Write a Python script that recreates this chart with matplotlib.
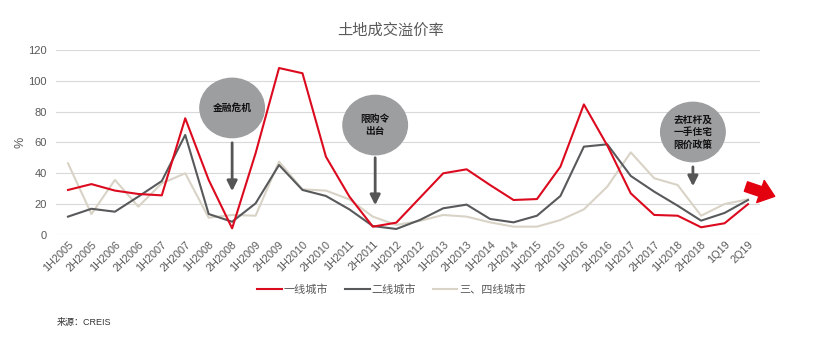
import matplotlib
matplotlib.use('Agg')
import matplotlib.pyplot as plt
from matplotlib.patches import Ellipse

plt.rcParams['font.family'] = ['Liberation Sans', 'Noto Sans CJK SC', 'DejaVu Sans']

# 时间段
periods = ['1H2005', '2H2005', '1H2006', '2H2006', '1H2007', '2H2007', '1H2008', '2H2008',
           '1H2009', '2H2009', '1H2010', '2H2010', '1H2011', '2H2011', '1H2012', '2H2012',
           '1H2013', '2H2013', '1H2014', '2H2014', '1H2015', '2H2015', '1H2016', '2H2016',
           '1H2017', '2H2017', '1H2018', '2H2018', '1Q19', '2Q19']

# 溢价率 (%)
tier1 = [29.2, 33, 28.8, 26.6, 25.7, 75.7, 35.7, 4.3, 53, 108.3, 104.9, 50.8, 24.9, 5.4, 8,
         24, 40, 42.6, 32.4, 22.7, 23.3, 44.3, 84.7, 58, 27, 13, 12.5, 5, 7.6, 20]
tier2 = [11.9, 17, 15.1, 24.9, 35, 64.9, 13.6, 8.6, 20.5, 45.4, 29.2, 25.3, 16.6, 5.8, 3.9,
         9.7, 17.3, 19.7, 10.4, 8.2, 12.5, 25.3, 57.3, 58.8, 38.3, 28.1, 19, 9.3, 14.3, 22.7]
tier34 = [46.5, 13.6, 35.7, 18.4, 33.5, 40, 11.2, 13, 12.5, 47.6, 29.6, 28.8, 23.1, 11.9, 6.5,
          9.1, 13, 11.9, 8.2, 5.4, 5.4, 9.7, 16.6, 31.4, 53.6, 36.8, 32.4, 12.5, 20.1, 23.1]

# 政策标注: (文字, 圆心x, 圆心y, 箭头起点y, 箭头终点y)
notes = [('金融危机', 7.0, 82.4, 61.6, 26.6),
         ('限购令\n出台', 13.1, 71.3, 51.9, 17.5),
         ('去杠杆及\n一手住宅\n限价政策', 26.65, 66.8, 46, 29.8)]

fig = plt.figure(figsize=(8.25, 3.54), dpi=100)
ax = fig.add_axes([0.0682, 0.3362, 0.8527, 0.5226])

x = range(len(periods))
ax.plot(x, tier1, color='#dc0a1e', lw=1.5, label='一线城市', zorder=4)
ax.plot(x, tier2, color='#58595b', lw=1.5, label='二线城市', zorder=3)
ax.plot(x, tier34, color='#d8d3c6', lw=1.5, label='三、四线城市', zorder=2)

ax.set_xlim(-0.5, 29.5)
ax.set_ylim(0, 120)
ax.set_yticks(range(0, 121, 20))
ax.set_xticks(list(x))
ax.set_xticklabels(periods, rotation=45, ha='right', rotation_mode='anchor', fontsize=7.8, color='#595959')
ax.tick_params(axis='y', labelsize=8, colors='#595959', length=0, pad=7)
ax.tick_params(axis='x', length=0, pad=3)
ax.grid(axis='y', color='#d9d9d9', lw=0.8)
ax.set_axisbelow(True)
for s in ax.spines.values():
    s.set_visible(False)
ax.set_ylabel('%', fontsize=9, color='#595959', labelpad=1)

# 标注气泡和箭头
for text, cx, cy, y0, y1 in notes:
    ax.add_patch(Ellipse((cx, cy), 2.75, 38.5, color='#9d9ea0', zorder=5, clip_on=False))
    ax.text(cx, cy, text, ha='center', va='center', fontsize=7, color='#111111', weight='bold',
            linespacing=1.3, zorder=6, family=['Noto Sans CJK SC'])
    ax.annotate('', xy=(cx, y1), xytext=(cx, y0),
                arrowprops=dict(arrowstyle='-|>,head_length=0.6,head_width=0.3', color='#555555', lw=2),
                zorder=6)

# 右侧红色箭头
ax.annotate('', xy=(30.25, 24.5), xytext=(28.8, 32),
            arrowprops=dict(arrowstyle='simple,head_length=0.9,head_width=1.4,tail_width=0.6',
                            color='#e3000f', mutation_scale=12),
            annotation_clip=False)

fig.text(0.473, 0.915, '土地成交溢价率', ha='center', va='center', fontsize=11, color='#595959')
fig.legend(loc='center', bbox_to_anchor=(0.475, 0.182), ncol=3, frameon=False, fontsize=8,
           handlelength=2.2, columnspacing=1.5, handletextpad=0.2, labelcolor='#595959')
fig.text(0.069, 0.09, '来源：CREIS', fontsize=6.5, color='#333333', va='center')

fig.savefig('out.png', dpi=100)
